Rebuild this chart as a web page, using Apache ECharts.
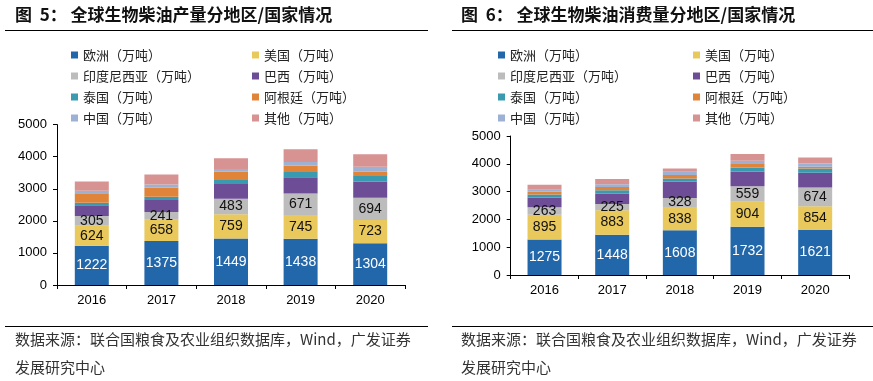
<!DOCTYPE html>
<html>
<head>
<meta charset="utf-8">
<script src="https://cdn.jsdelivr.net/npm/echarts@6/dist/echarts.min.js"></script>
<style>
html,body{margin:0;padding:0;background:#fff;}
#main{width:873px;height:381px;}
</style>
</head>
<body>
<div id="main"></div>
<script>
// ---- data ----
var years = ['2016', '2017', '2018', '2019', '2020'];
var seriesNames = ['欧洲（万吨）', '美国（万吨）', '印度尼西亚（万吨）', '巴西（万吨）', '泰国（万吨）', '阿根廷（万吨）', '中国（万吨）', '其他（万吨）'];
var yTicks = [0, 1000, 2000, 3000, 4000, 5000];

// production (chart 5)
var prodEurope    = [1222, 1375, 1449, 1438, 1304];
var prodUS        = [624, 658, 759, 745, 723];
var prodIndonesia = [305, 241, 483, 671, 694];
var prodBrazil    = [333, 374, 458, 502, 499];
var prodThailand  = [83, 104, 125, 166, 177];
var prodArgentina = [292, 281, 260, 197, 134];
var prodChina     = [80, 100, 83, 115, 156];
var prodOther     = [290, 312, 333, 395, 387];

// consumption (chart 6)
var consEurope    = [1275, 1448, 1608, 1732, 1621];
var consUS        = [895, 883, 838, 904, 854];
var consIndonesia = [263, 225, 328, 559, 674];
var consBrazil    = [345, 367, 579, 532, 528];
var consThailand  = [122, 122, 120, 144, 158];
var consArgentina = [93, 119, 120, 119, 57];
var consChina     = [72, 97, 120, 119, 122];
var consOther     = [180, 190, 120, 240, 216];

var colors = ['#2367AB', '#E9C85C', '#BCBCBC', '#6D4E96', '#3A9AB0', '#E0843A', '#9CB1D4', '#D79392'];
var labelColors = ['#ffffff', '#111111', '#111111'];

var CJK = "'Noto Sans CJK SC', 'Noto Sans', sans-serif";
var LAT = 'Liberation Sans';

var prodData = [prodEurope, prodUS, prodIndonesia, prodBrazil, prodThailand, prodArgentina, prodChina, prodOther];
var consData = [consEurope, consUS, consIndonesia, consBrazil, consThailand, consArgentina, consChina, consOther];

function makeSeries(dataSets, idx, stack) {
  return dataSets.map(function (d, i) {
    return {
      name: seriesNames[i],
      type: 'bar',
      stack: stack,
      xAxisIndex: idx,
      yAxisIndex: idx,
      barWidth: 34,
      data: d,
      itemStyle: { color: colors[i] },
      label: i < 3 ? {
        show: true,
        position: 'inside',
        color: labelColors[i],
        fontFamily: LAT,
        fontSize: 14
      } : { show: false },
      emphasis: { disabled: true }
    };
  });
}

function xAxis(gridIndex) {
  return {
    type: 'category', gridIndex: gridIndex, data: years,
    axisLine: { lineStyle: { color: '#000', width: 1 } },
    axisTick: { show: true, length: 4, lineStyle: { color: '#000' } },
    axisLabel: { color: '#000', fontFamily: LAT, fontSize: 13, margin: 9 }
  };
}
function yAxis(gridIndex) {
  return {
    type: 'value', gridIndex: gridIndex,
    min: yTicks[0], max: yTicks[yTicks.length - 1], interval: yTicks[1] - yTicks[0],
    axisLine: { show: true, lineStyle: { color: '#000', width: 1 } },
    axisTick: { show: true, length: 4, lineStyle: { color: '#000' } },
    splitLine: { show: false },
    axisLabel: { color: '#000', fontFamily: LAT, fontSize: 13, margin: 10,
      formatter: function (v) { return String(v); } }
  };
}
function legend(left, top, names) {
  return {
    orient: 'vertical', left: left, top: top,
    icon: 'rect', itemWidth: 7, itemHeight: 7, itemGap: 7,
    data: names,
    selectedMode: false,
    textStyle: { fontFamily: CJK, fontSize: 13, color: '#222', lineHeight: 14 }
  };
}

var col1 = [seriesNames[0], seriesNames[2], seriesNames[4], seriesNames[6]];
var col2 = [seriesNames[1], seriesNames[3], seriesNames[5], seriesNames[7]];

var chart = echarts.init(document.getElementById('main'), null, { renderer: 'canvas' });
chart.setOption({
  animation: false,
  backgroundColor: '#fff',
  grid: [
    { left: 57, top: 124.6, width: 348, height: 160.4 },
    { left: 510.7, top: 136, width: 338.3, height: 139 }
  ],
  xAxis: [xAxis(0), xAxis(1)],
  yAxis: [yAxis(0), yAxis(1)],
  legend: [
    legend(66, 43, col1), legend(247, 43, col2),
    legend(493, 43, col1), legend(688, 43, col2)
  ],
  series: makeSeries(prodData, 0, 'p').concat(makeSeries(consData, 1, 'c')),
  graphic: [
    { type: 'text', left: 15, top: 6, style: { text: '图  5： 全球生物柴油产量分地区/国家情况', font: 'bold 17px ' + CJK, fill: '#111' } },
    { type: 'text', left: 461, top: 6, style: { text: '图  6： 全球生物柴油消费量分地区/国家情况', font: 'bold 17px ' + CJK, fill: '#111' } },
    { type: 'line', shape: { x1: 5, y1: 30.5, x2: 428, y2: 30.5 }, style: { stroke: '#000', lineWidth: 1 } },
    { type: 'line', shape: { x1: 452, y1: 30.5, x2: 873, y2: 30.5 }, style: { stroke: '#000', lineWidth: 1 } },
    { type: 'line', shape: { x1: 5, y1: 326.5, x2: 428, y2: 326.5 }, style: { stroke: '#000', lineWidth: 1 } },
    { type: 'line', shape: { x1: 452, y1: 326.5, x2: 873, y2: 326.5 }, style: { stroke: '#000', lineWidth: 1 } },
    { type: 'text', left: 15, top: 332, style: { text: '数据来源：联合国粮食及农业组织数据库，Wind，广发证券', font: '15px ' + CJK, fill: '#333' } },
    { type: 'text', left: 15, top: 360, style: { text: '发展研究中心', font: '15px ' + CJK, fill: '#333' } },
    { type: 'text', left: 461, top: 332, style: { text: '数据来源：联合国粮食及农业组织数据库，Wind，广发证券', font: '15px ' + CJK, fill: '#333' } },
    { type: 'text', left: 461, top: 360, style: { text: '发展研究中心', font: '15px ' + CJK, fill: '#333' } }
  ]
});
</script>
</body>
</html>
